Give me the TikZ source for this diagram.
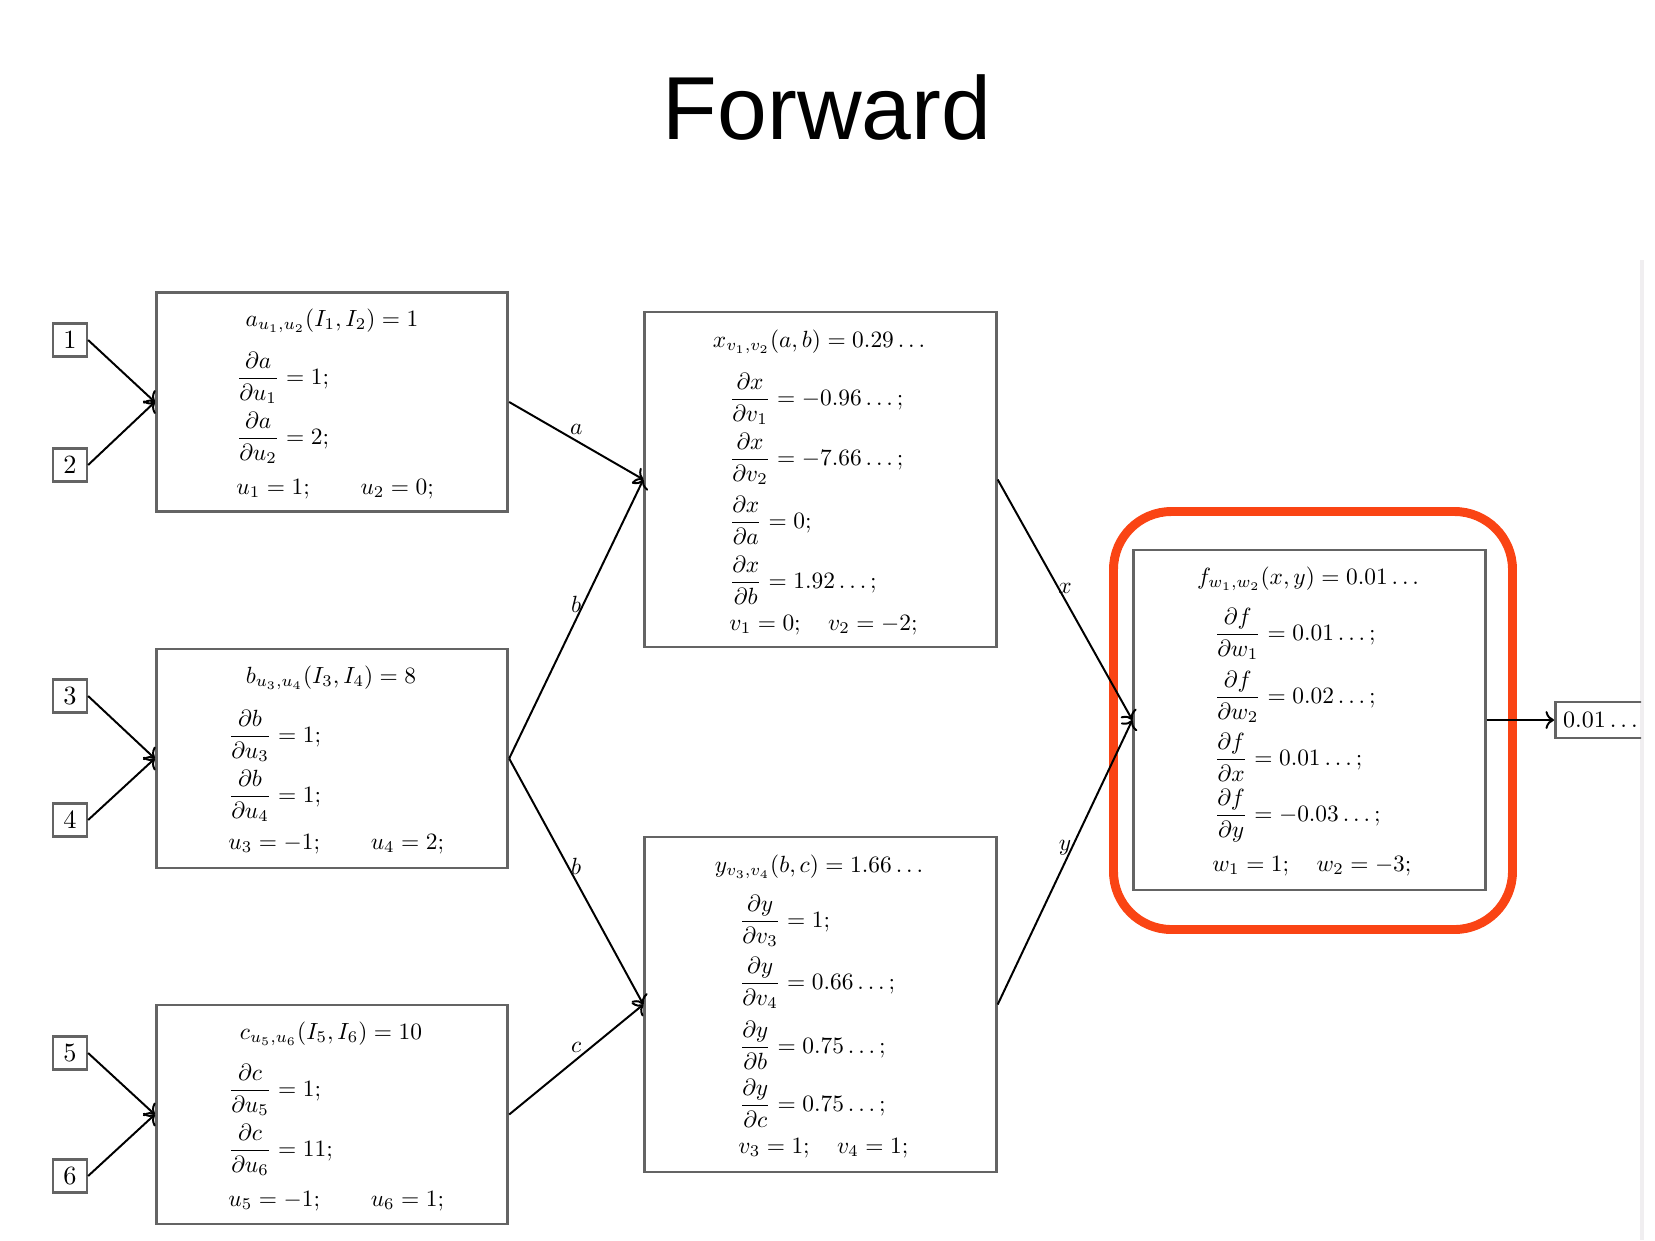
\documentclass[tikz,border=0pt]{standalone}
\usepackage{amsmath}
\usepackage{fontspec}
\newfontfamily\titlefont{Liberation Sans}
\usetikzlibrary{arrows.meta}
\definecolor{boxgray}{RGB}{100,100,100}
\definecolor{hlred}{RGB}{250,68,20}
\definecolor{stripgray}{RGB}{240,238,240}
\begin{document}
\begin{tikzpicture}[x=0.38pt,y=-0.38pt,
  boxst/.style={draw=boxgray, line width=1.05pt, minimum width=133.6pt, inner sep=0pt},
  smallbox/.style={boxst, minimum height=83.2pt},
  bigbox/.style={boxst, minimum height=127.3pt},
  inbox/.style={draw=boxgray, line width=0.95pt, minimum width=12.8pt, minimum height=12.5pt, inner sep=0pt},
  txt/.style={inner sep=0pt, anchor=west, scale=0.89},
  ttl/.style={inner sep=0pt, anchor=center, scale=0.89},
  edge/.style={draw=black, line width=0.75pt, ->},
  lbl/.style={midway, above, inner sep=2.5pt, scale=0.89}]
\useasboundingbox (0,0) rectangle (1655,1240);
\fill[stripgray] (1640,260) rectangle (1644,1240);

\node[anchor=base] (title) at (827,139) {\titlefont\fontsize{34}{40}\selectfont Forward};

% input boxes
\node[inbox] (i1) at (70,340) {$1$};
\node[inbox] (i2) at (70,465) {$2$};
\node[inbox] (i3) at (70,696) {$3$};
\node[inbox] (i4) at (70,820) {$4$};
\node[inbox] (i5) at (70,1053) {$5$};
\node[inbox] (i6) at (70,1176) {$6$};

% main boxes
\node[smallbox] (A) at (332,402) {};
\node[smallbox] (B) at (332,758.5) {};
\node[smallbox] (C) at (332,1114.5) {};
\node[bigbox] (X) at (820.5,479.5) {};
\node[bigbox] (Y) at (820.5,1004.5) {};
\node[boxst, minimum height=129.2pt] (F) at (1309.5,720) {};

% box A
\node[ttl] (At) at (332,321) {$a_{u_1,u_2}(I_1,I_2)=1$};
\node[txt] (A1) at (236,378) {$\dfrac{\partial a}{\partial u_1}=1;$};
\node[txt] (A2) at (236,438) {$\dfrac{\partial a}{\partial u_2}=2;$};
\node[txt] (A3) at (236,489) {$u_1=1;\qquad u_2=0;$};

% box B
\node[ttl] (Bt) at (331,678) {$b_{u_3,u_4}(I_3,I_4)=8$};
\node[txt] (B1) at (228,736) {$\dfrac{\partial b}{\partial u_3}=1;$};
\node[txt] (B2) at (228,796) {$\dfrac{\partial b}{\partial u_4}=1;$};
\node[txt] (B3) at (228,844) {$u_3=-1;\qquad u_4=2;$};

% box C
\node[ttl] (Ct) at (331,1034) {$c_{u_5,u_6}(I_5,I_6)=10$};
\node[txt] (C1) at (228,1090) {$\dfrac{\partial c}{\partial u_5}=1;$};
\node[txt] (C2) at (228,1150) {$\dfrac{\partial c}{\partial u_6}=11;$};
\node[txt] (C3) at (228,1201) {$u_5=-1;\qquad u_6=1;$};

% box X
\node[ttl] (Xt) at (819,342) {$x_{v_1,v_2}(a,b)=0.29\ldots$};
\node[txt] (X1) at (729,399) {$\dfrac{\partial x}{\partial v_1}=-0.96\ldots;$};
\node[txt] (X2) at (729,459) {$\dfrac{\partial x}{\partial v_2}=-7.66\ldots;$};
\node[txt] (X3) at (729,520) {$\dfrac{\partial x}{\partial a}=0;$};
\node[txt] (X4) at (729,580) {$\dfrac{\partial x}{\partial b}=1.92\ldots;$};
\node[txt] (X5) at (729,625) {$v_1=0;\quad v_2=-2;$};

% box Y
\node[ttl] (Yt) at (819,867) {$y_{v_3,v_4}(b,c)=1.66\ldots$};
\node[txt] (Y1) at (739,921) {$\dfrac{\partial y}{\partial v_3}=1;$};
\node[txt] (Y2) at (739,983) {$\dfrac{\partial y}{\partial v_4}=0.66\ldots;$};
\node[txt] (Y3) at (739,1045) {$\dfrac{\partial y}{\partial b}=0.75\ldots;$};
\node[txt] (Y4) at (739,1103) {$\dfrac{\partial y}{\partial c}=0.75\ldots;$};
\node[txt] (Y5) at (738,1148) {$v_3=1;\quad v_4=1;$};

% box F
\node[ttl] (Ft) at (1308,579) {$f_{w_1,w_2}(x,y)=0.01\ldots$};
\node[txt] (F1) at (1214,634) {$\dfrac{\partial f}{\partial w_1}=0.01\ldots;$};
\node[txt] (F2) at (1214,697) {$\dfrac{\partial f}{\partial w_2}=0.02\ldots;$};
\node[txt] (F3) at (1214,757) {$\dfrac{\partial f}{\partial x}=0.01\ldots;$};
\node[txt] (F4) at (1214,816) {$\dfrac{\partial f}{\partial y}=-0.03\ldots;$};
\node[txt] (F5) at (1212,866) {$w_1=1;\quad w_2=-3;$};

% output box (clipped at the page edge)
\begin{scope}
\clip (0,0) rectangle (1641,1240);
\node[draw=boxgray, line width=0.95pt, anchor=west, minimum height=13.6pt, inner sep=3pt, text width=40pt] (out) at (1554,720) {\fontsize{8.9}{10}\selectfont 0.01\,.\,.\,.};
\end{scope}

% highlight
\draw[hlred, line width=3.4pt, rounded corners=22pt] (1113.5,511.5) rectangle (1512.5,929.5);

% connectors
\draw[edge] (i1.east) -- (A.west);
\draw[edge] (i2.east) -- (A.west);
\draw[edge] (i3.east) -- (B.west);
\draw[edge] (i4.east) -- (B.west);
\draw[edge] (i5.east) -- (C.west);
\draw[edge] (i6.east) -- (C.west);
\draw[edge] (A.east) -- node[lbl] {$a$} (X.west);
\draw[edge] (B.east) -- node[lbl] {$b$} (X.west);
\draw[edge] (B.east) -- node[lbl] {$b$} (Y.west);
\draw[edge] (C.east) -- node[lbl] {$c$} (Y.west);
\draw[edge] (X.east) -- node[lbl] {$x$} (F.west);
\draw[edge] (Y.east) -- node[lbl] {$y$} (F.west);
\draw[edge] (F.east) -- (out.west);
\end{tikzpicture}
\end{document}
